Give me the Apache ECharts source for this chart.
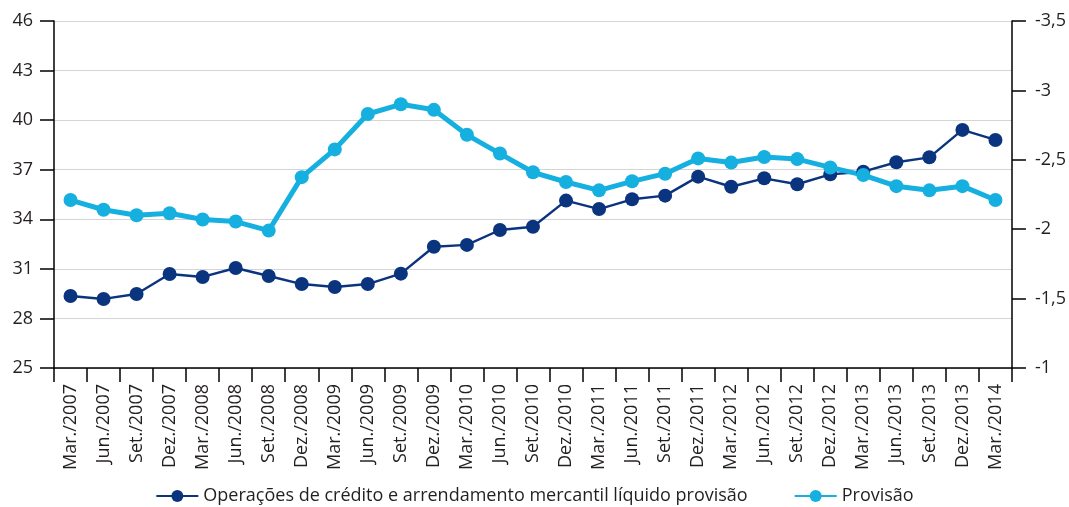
<!DOCTYPE html>
<html>
<head>
<meta charset="utf-8">
<script src="https://cdn.jsdelivr.net/npm/echarts@6/dist/echarts.min.js"></script>
<style>
  html, body { margin: 0; padding: 0; background: #fff; }
  #chart { width: 1069px; height: 507px; }
</style>
</head>
<body>
<div id="chart"></div>
<script>
// Trimestres
const categories = [
  'Mar./2007', 'Jun./2007', 'Set./2007', 'Dez./2007',
  'Mar./2008', 'Jun./2008', 'Set./2008', 'Dez./2008',
  'Mar./2009', 'Jun./2009', 'Set./2009', 'Dez./2009',
  'Mar./2010', 'Jun./2010', 'Set./2010', 'Dez./2010',
  'Mar./2011', 'Jun./2011', 'Set./2011', 'Dez./2011',
  'Mar./2012', 'Jun./2012', 'Set./2012', 'Dez./2012',
  'Mar./2013', 'Jun./2013', 'Set./2013', 'Dez./2013',
  'Mar./2014'
];

// Eixo esquerdo
const operacoes = [
  29.36, 29.18, 29.48, 30.69, 30.51, 31.05, 30.57, 30.08,
  29.90, 30.08, 30.71, 32.34, 32.45, 33.35, 33.55, 35.13,
  34.62, 35.21, 35.43, 36.58, 35.97, 36.48, 36.12, 36.72,
  36.88, 37.45, 37.75, 39.41, 38.80
];

// Eixo direito (invertido)
const provisao = [
  -2.21, -2.14, -2.10, -2.115, -2.07, -2.055, -1.99, -2.375,
  -2.575, -2.83, -2.90, -2.86, -2.68, -2.545, -2.41, -2.34,
  -2.28, -2.345, -2.40, -2.51, -2.48, -2.52, -2.505, -2.445,
  -2.39, -2.31, -2.28, -2.31, -2.21
];

const leftTicks = { min: 25, max: 46, interval: 3 };
const rightTicks = { min: -3.5, max: -1, interval: 0.5 };

const FONT = 'Open Sans';
const TXT = '#231f20';
const DARK = '#0b347f';
const LIGHT = '#16b0e0';

const chart = echarts.init(document.getElementById('chart'));

const option = {
  animation: false,
  textStyle: { fontFamily: FONT },
  grid: { left: 54, right: 55, top: 21, bottom: 139, containLabel: false },
  legend: {
    top: 487,
    left: 'center',
    padding: 0,
    itemWidth: 42,
    itemHeight: 15,
    itemGap: 46,
    textStyle: { fontFamily: FONT, fontSize: 18, color: TXT },
    data: ['Operações de crédito e arrendamento mercantil líquido provisão', 'Provisão']
  },
  xAxis: {
    type: 'category',
    data: categories,
    boundaryGap: true,
    axisLine: { lineStyle: { color: '#000', width: 1.5 } },
    axisTick: { show: true, length: 14, lineStyle: { color: '#000', width: 1.5 } },
    axisLabel: {
      interval: 0,
      rotate: 90,
      margin: 16,
      fontFamily: FONT,
      fontSize: 18,
      color: TXT
    }
  },
  yAxis: [
    {
      type: 'value',
      position: 'left',
      min: leftTicks.min,
      max: leftTicks.max,
      interval: leftTicks.interval,
      axisLine: { show: true, lineStyle: { color: '#000', width: 1.5 } },
      axisTick: { show: true, length: 14, lineStyle: { color: '#000', width: 1.5 } },
      axisLabel: { fontFamily: FONT, fontSize: 18, color: TXT, margin: 21 },
      splitLine: { show: true, lineStyle: { color: '#d4d4d4', width: 1.2 } }
    },
    {
      type: 'value',
      position: 'right',
      inverse: true,
      min: rightTicks.min,
      max: rightTicks.max,
      interval: rightTicks.interval,
      axisLine: { show: true, lineStyle: { color: '#000', width: 1.5 } },
      axisTick: { show: true, length: 14, lineStyle: { color: '#000', width: 1.5 } },
      axisLabel: {
        fontFamily: FONT, fontSize: 18, color: TXT, margin: 23,
        formatter: v => (v < 0 ? '-' : '') + String(Math.abs(v)).replace('.', ',')
      },
      splitLine: { show: false }
    }
  ],
  series: [
    {
      name: 'Operações de crédito e arrendamento mercantil líquido provisão',
      type: 'line',
      yAxisIndex: 0,
      data: operacoes,
      symbol: 'circle',
      symbolSize: 14,
      lineStyle: { color: DARK, width: 2.4 },
      itemStyle: { color: DARK }
    },
    {
      name: 'Provisão',
      type: 'line',
      yAxisIndex: 1,
      data: provisao,
      symbol: 'circle',
      symbolSize: 14,
      lineStyle: { color: LIGHT, width: 5 },
      itemStyle: { color: LIGHT }
    }
  ]
};

chart.setOption(option);
</script>
</body>
</html>
